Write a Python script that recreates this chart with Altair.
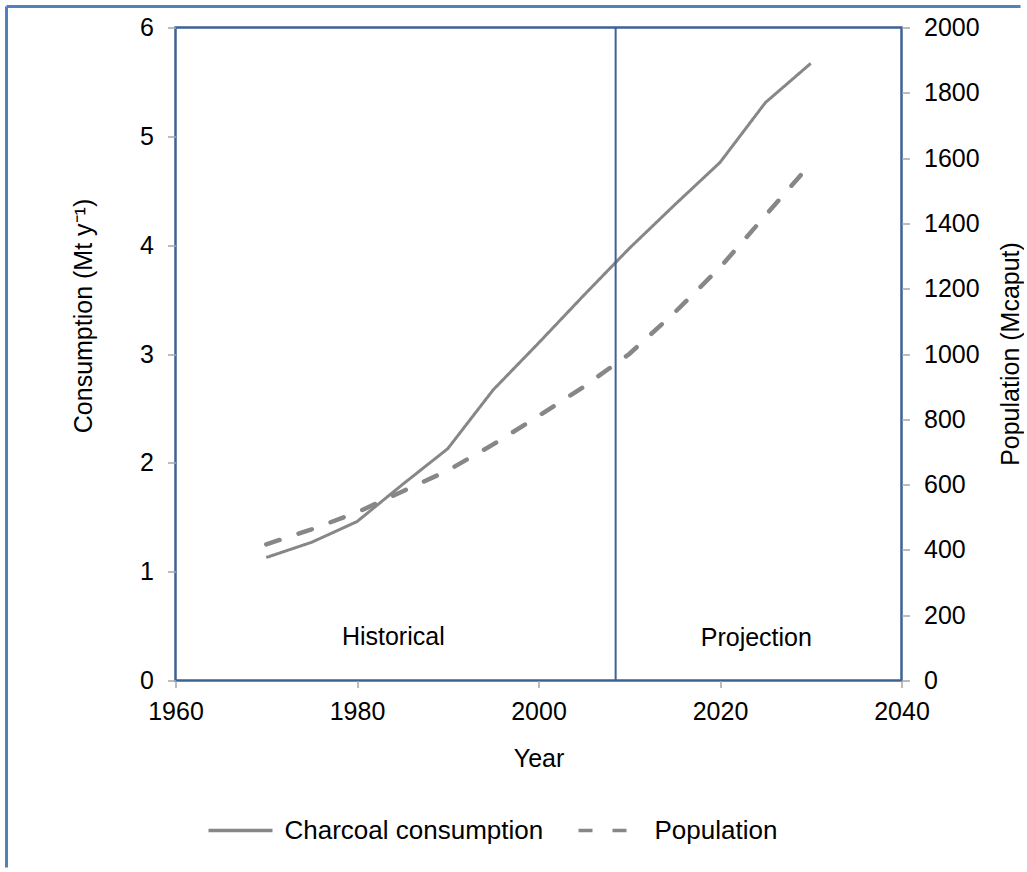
import altair as alt
import pandas as pd

# ---- data ----
years = [1970, 1975, 1980, 1985, 1990, 1995, 2000, 2005, 2010, 2015, 2020, 2025, 2030]
charcoal = [1.13, 1.27, 1.46, 1.80, 2.13, 2.67, 3.10, 3.54, 3.97, 4.37, 4.76, 5.31, 5.67]
population = [417, 463, 515, 579, 643, 723, 810, 900, 1000, 1127, 1265, 1424, 1583]
series_names = ["Charcoal consumption", "Population"]
x_ticks = [1960, 1980, 2000, 2020, 2040]
left_ticks = [0, 1, 2, 3, 4, 5, 6]
right_ticks = [0, 200, 400, 600, 800, 1000, 1200, 1400, 1600, 1800, 2000]
split_year = [2008.5]
ann_text = ["Historical", "Projection"]
ann_x = [1984, 2024]
ann_y = [0.40, 0.39]

df_c = pd.DataFrame({"year": years, "value": charcoal, "series": series_names[0]})
df_p = pd.DataFrame({"year": years, "value": population, "series": series_names[1]})
df_a = pd.DataFrame({"year": ann_x, "value": ann_y, "label": ann_text})
df_s = pd.DataFrame({"year": split_year})
df_one = pd.DataFrame({"d": [0]})

FONT = "Liberation Sans"
GREY = "#878787"
FRAME = "#3D6294"
OUTER = "#4F81BD"

x_enc = alt.X(
    "year:Q",
    scale=alt.Scale(domain=[1960, 2040], nice=False, zero=False),
    axis=alt.Axis(values=x_ticks, format="d", title="Year", tickSize=7,
                  labelPadding=12, titlePadding=22, labelFlush=False),
)

dash_enc = alt.StrokeDash(
    "series:N",
    scale=alt.Scale(domain=series_names, range=[[1, 0], [14, 20]]),
    legend=alt.Legend(
        title=None, orient="none", legendX=31, legendY=769,
        direction="horizontal", symbolType="stroke", symbolSize=4096,
        symbolStrokeWidth=3.5, symbolStrokeColor=GREY,
        labelFontSize=26, labelFont=FONT, labelColor="black", labelLimit=0,
        labelOffset=10, columnPadding=28, padding=0,
    ),
)

charcoal_line = alt.Chart(df_c).mark_line(color=GREY, strokeWidth=3).encode(
    x=x_enc,
    y=alt.Y(
        "value:Q",
        scale=alt.Scale(domain=[0, 6], nice=False),
        axis=alt.Axis(orient="left", values=left_ticks, format="d",
                      title="Consumption (Mt y⁻¹)",
                      tickSize=8, labelPadding=14, titleAngle=270, titleX=-92,
                      titleY=288, titleAlign="center", titleBaseline="middle"),
    ),
    strokeDash=dash_enc,
)

vrule = alt.Chart(df_s).mark_rule(color=FRAME, strokeWidth=2).encode(x="year:Q")

texts = alt.Chart(df_a).mark_text(font=FONT, fontSize=25, color="black").encode(
    x="year:Q", y="value:Q", text="label:N"
)

pop_line = alt.Chart(df_p).mark_line(color=GREY, strokeWidth=4.5, strokeCap="round").encode(
    x=x_enc,
    y=alt.Y(
        "value:Q",
        scale=alt.Scale(domain=[0, 2000], nice=False),
        axis=alt.Axis(orient="right", values=right_ticks, format="d",
                      title="Population (Mcaput)",
                      tickSize=8, labelPadding=14, titleAngle=270, titleX=109,
                      titleY=326, titleAlign="center", titleBaseline="middle"),
    ),
    strokeDash=dash_enc,
)

border_left = alt.Chart(df_one).mark_rule(color=OUTER, strokeWidth=3).encode(
    x=alt.value(-169), y=alt.value(-21), y2=alt.value(840)
)
border_top = alt.Chart(df_one).mark_rule(color=OUTER, strokeWidth=3).encode(
    x=alt.value(-169), x2=alt.value(845), y=alt.value(-21)
)

chart = (
    alt.layer(alt.layer(charcoal_line, vrule, texts), pop_line, border_left, border_top)
    .resolve_scale(y="independent")
    .properties(width=726, height=653,
                padding={"left": 4.5, "top": 4.5, "right": 0, "bottom": 0},
                background="white")
    .configure_view(stroke=FRAME, strokeWidth=2.5)
    .configure_axis(
        labelFont=FONT, labelFontSize=25, labelColor="#000000",
        titleFont=FONT, titleFontSize=25, titleFontWeight="normal", titleColor="#000000",
        tickColor="#A6A6A6", tickWidth=1.5, domain=False, grid=False,
    )
)

chart.save("out.html", embed_options={"renderer": "svg", "actions": False})
